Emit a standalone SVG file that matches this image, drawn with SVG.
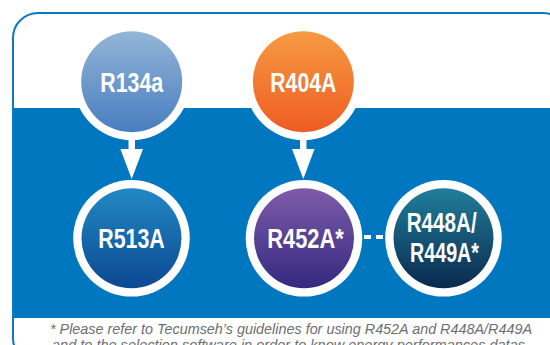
<svg xmlns="http://www.w3.org/2000/svg" width="550" height="345" viewBox="0 0 550 345">
<defs>
<linearGradient id="gBlueLight" x1="0" y1="0" x2="0" y2="1"><stop offset="0" stop-color="#93b6d6"/><stop offset="1" stop-color="#497dc0"/></linearGradient>
<linearGradient id="gOrange" x1="0" y1="0" x2="0" y2="1"><stop offset="0" stop-color="#f79b41"/><stop offset="1" stop-color="#ee5c23"/></linearGradient>
<linearGradient id="gBlue" x1="0" y1="0" x2="0" y2="1"><stop offset="0" stop-color="#2189c5"/><stop offset="1" stop-color="#0c4892"/></linearGradient>
<linearGradient id="gPurple" x1="0" y1="0" x2="0" y2="1"><stop offset="0" stop-color="#7e5ba9"/><stop offset="1" stop-color="#34297f"/></linearGradient>
<linearGradient id="gTeal" x1="0" y1="0" x2="0" y2="1"><stop offset="0" stop-color="#217e9c"/><stop offset="1" stop-color="#0a294d"/></linearGradient>
</defs>
<style>
.ring{fill:#ffffff}
.lbl{fill:#ffffff;font-family:"Liberation Sans",Arial,sans-serif;font-weight:bold;font-size:27px;text-anchor:middle}
.note{fill:#6d6e71;font-family:"Liberation Sans",Arial,sans-serif;font-style:italic;font-size:14px}
.arrow{fill:#ffffff}
.dash{stroke:#ffffff;stroke-width:4;stroke-dasharray:7 5;fill:none}
</style>
<rect x="0" y="0" width="550" height="345" fill="#ffffff"/>
<rect x="13" y="13" width="555" height="350" rx="25" ry="25" fill="#ffffff" stroke="#0a78c2" stroke-width="2"/>
<rect x="14" y="108" width="536" height="210" fill="#0077bf"/>
<g id="connectors">
<path class="arrow" d="M128.5 136 H135 V149 H143 L131.7 179 L120.4 149 H128.5 Z"/>
<path class="arrow" d="M300 136 H306.5 V149 H314.5 L303.3 179 L292 149 H300 Z"/>
<line class="dash" x1="364" y1="237" x2="385" y2="237"/>
</g>
<g id="R134a">
<circle class="ring" cx="131.7" cy="81.7" r="58.5"/>
<circle cx="131.7" cy="81.7" r="50.5" fill="url(#gBlueLight)"/>
<text class="lbl" x="131.7" y="91.5" textLength="63" lengthAdjust="spacingAndGlyphs">R134a</text>
</g>
<g id="R404A">
<circle class="ring" cx="303.3" cy="81.7" r="58.5"/>
<circle cx="303.3" cy="81.7" r="50.5" fill="url(#gOrange)"/>
<text class="lbl" x="303.3" y="91.5" textLength="66" lengthAdjust="spacingAndGlyphs">R404A</text>
</g>
<g id="R513A">
<circle class="ring" cx="131.5" cy="238.3" r="58.3"/>
<circle cx="131.5" cy="238.3" r="50" fill="url(#gBlue)"/>
<text class="lbl" x="131.5" y="248.3" textLength="66.5" lengthAdjust="spacingAndGlyphs">R513A</text>
</g>
<g id="R452A">
<circle class="ring" cx="304" cy="238.3" r="58.3"/>
<circle cx="304" cy="238.3" r="50" fill="url(#gPurple)"/>
<text class="lbl" x="305.5" y="248.3" textLength="76.5" lengthAdjust="spacingAndGlyphs">R452A*</text>
</g>
<g id="R448A">
<circle class="ring" cx="443.5" cy="238.3" r="58.3"/>
<circle cx="443.5" cy="238.3" r="50" fill="url(#gTeal)"/>
<text class="lbl" x="441.7" y="232.3" textLength="70" lengthAdjust="spacingAndGlyphs">R448A/</text>
<text class="lbl" x="444.5" y="261.7" textLength="69" lengthAdjust="spacingAndGlyphs">R449A*</text>
</g>
<g id="footnote">
<text class="note" x="50" y="333.5" textLength="482" lengthAdjust="spacingAndGlyphs">* Please refer to Tecumseh’s guidelines for using R452A and R448A/R449A</text>
<text class="note" x="52" y="349.5" textLength="473" lengthAdjust="spacingAndGlyphs">and to the selection software in order to know energy performances datas</text>
</g>
</svg>
